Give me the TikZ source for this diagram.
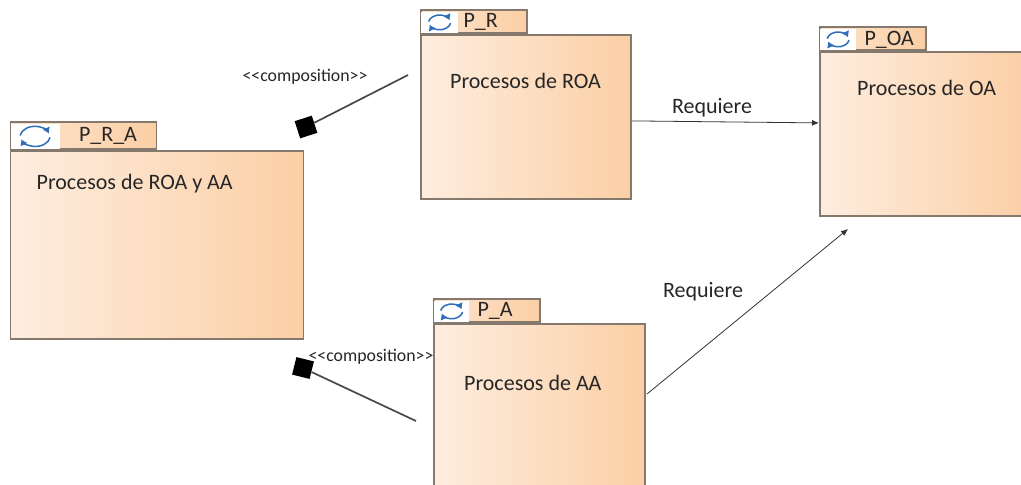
\documentclass[tikz,border=0pt]{standalone}
\usepackage{fontspec}
\setmainfont{Carlito}
\usetikzlibrary{positioning,arrows.meta}
\definecolor{pkgline}{HTML}{85786C}
\definecolor{pkgleft}{HTML}{FEEDDF}
\definecolor{pkgright}{HTML}{FBCFA5}
\definecolor{iconblue}{HTML}{2F6DB8}
\definecolor{wireline}{HTML}{484848}
\tikzset{
  pkgbody/.style={draw=pkgline, line width=1.8pt, left color=pkgleft, right color=pkgright, inner sep=0pt, anchor=north west},
  pkgtab/.style={draw=pkgline, line width=1.6pt, left color=pkgleft!70!pkgright, right color=pkgright, inner sep=0pt, minimum height=23pt},
  pkgicon/.style={fill=white, inner sep=0pt, minimum height=21pt},
  pkgtext/.style={font=\fontsize{22}{26}\selectfont, text=black!85, inner sep=0pt},
  smalltext/.style={font=\fontsize{17.8}{20}\selectfont, text=black!85, inner sep=0pt},
  square/.style={fill=black, inner sep=0pt, minimum size=18pt},
  wire/.style={draw=wireline, line width=1.7pt},
  flow/.style={draw=black!80, line width=0.8pt, -{Latex[length=7pt,width=6pt]}},
  refresh/.pic={
    \draw[iconblue, line width=1.5pt, -{Latex[length=6pt,width=8pt]}] (-15,1) arc[start angle=170, end angle=20, x radius=15, y radius=11];
    \draw[iconblue, line width=1.5pt, -{Latex[length=6pt,width=8pt]}] (15,-1) arc[start angle=-10, end angle=-160, x radius=15, y radius=11];
  }
}
\begin{document}
\begin{tikzpicture}[x=1pt,y=1pt]
  \useasboundingbox (0,0) rectangle (1021,-485);
  % packages
  \node (PRAbody) [pkgbody, minimum width=293pt, minimum height=188pt] at (9.5,-150) {};
  \node (PRAtab) [pkgtab, minimum width=146pt, minimum height=27pt, above right=0pt and 0pt of PRAbody.north west] {};
  \node (PRAicon) [pkgicon, minimum width=49pt, minimum height=25pt, above right=0.9pt and 0.9pt of PRAbody.north west] {};
  \node (PRAname) [pkgtext, right=19pt of PRAicon] {P\_R\_A};
  \node (PRAtext) [pkgtext, below right=24pt and 27pt of PRAbody.north west] {Procesos de ROA y AA};
  \path (PRAicon.center) pic {refresh};

  \node (PRbody) [pkgbody, minimum width=210pt, minimum height=164pt] at (420,-34) {};
  \node (PRtab) [pkgtab, minimum width=106pt, above right=0pt and 0pt of PRbody.north west] {};
  \node (PRicon) [pkgicon, minimum width=37pt, above right=0.9pt and 0.9pt of PRbody.north west] {};
  \node (PRname) [pkgtext, right=5pt of PRicon] {P\_R};
  \node (PRtext) [pkgtext, below right=39pt and 30pt of PRbody.north west] {Procesos de ROA};
  \path (PRicon.center) pic[scale=0.73] {refresh};

  \node (PAbody) [pkgbody, minimum width=211pt, minimum height=170pt] at (433,-323) {};
  \node (PAtab) [pkgtab, minimum width=106pt, above right=0pt and 0pt of PAbody.north west] {};
  \node (PAicon) [pkgicon, minimum width=35pt, above right=0.9pt and 0.9pt of PAbody.north west] {};
  \node (PAname) [pkgtext, right=8pt of PAicon] {P\_A};
  \node (PAtext) [pkgtext, below right=52pt and 31pt of PAbody.north west] {Procesos de AA};
  \path (PAicon.center) pic[scale=0.73] {refresh};

  \node (POAbody) [pkgbody, minimum width=210pt, minimum height=164pt] at (819,-51) {};
  \node (POAtab) [pkgtab, minimum width=106pt, above right=0pt and 0pt of POAbody.north west] {};
  \node (POAicon) [pkgicon, minimum width=36pt, above right=0.9pt and 0.9pt of POAbody.north west] {};
  \node (POAname) [pkgtext, right=8pt of POAicon] {P\_OA};
  \node (POAtext) [pkgtext, below right=29pt and 38pt of POAbody.north west] {Procesos de OA};
  \path (POAicon.center) pic[scale=0.73] {refresh};

  % composition ends
  \node (top) [square, rotate=18] at (306,-127) {};
  \node (low) [square, rotate=-14] at (303,-368) {};
  \coordinate (topstart) at (408,-75);
  \coordinate (lowstart) at (416,-421);
  \coordinate (reqstart) at (647,-394);
  \coordinate (reqend) at (848,-229);
  \draw[wire] (topstart) -- (top);
  \draw[wire] (lowstart) -- (low);

  % requires
  \draw[flow] ([yshift=-4pt]PRbody.east) -- ([yshift=11pt]POAbody.west);
  \draw[flow] (reqstart) -- (reqend);

  % labels
  \node (compa) [smalltext] at (305,-77) {{<}{<}composition{>}{>}};
  \node (compb) [smalltext] at (371,-357) {{<}{<}composition{>}{>}};
  \node (reqa) [pkgtext] at (712,-107.5) {Requiere};
  \node (reqb) [pkgtext] at (703,-291.5) {Requiere};
\end{tikzpicture}
\end{document}
